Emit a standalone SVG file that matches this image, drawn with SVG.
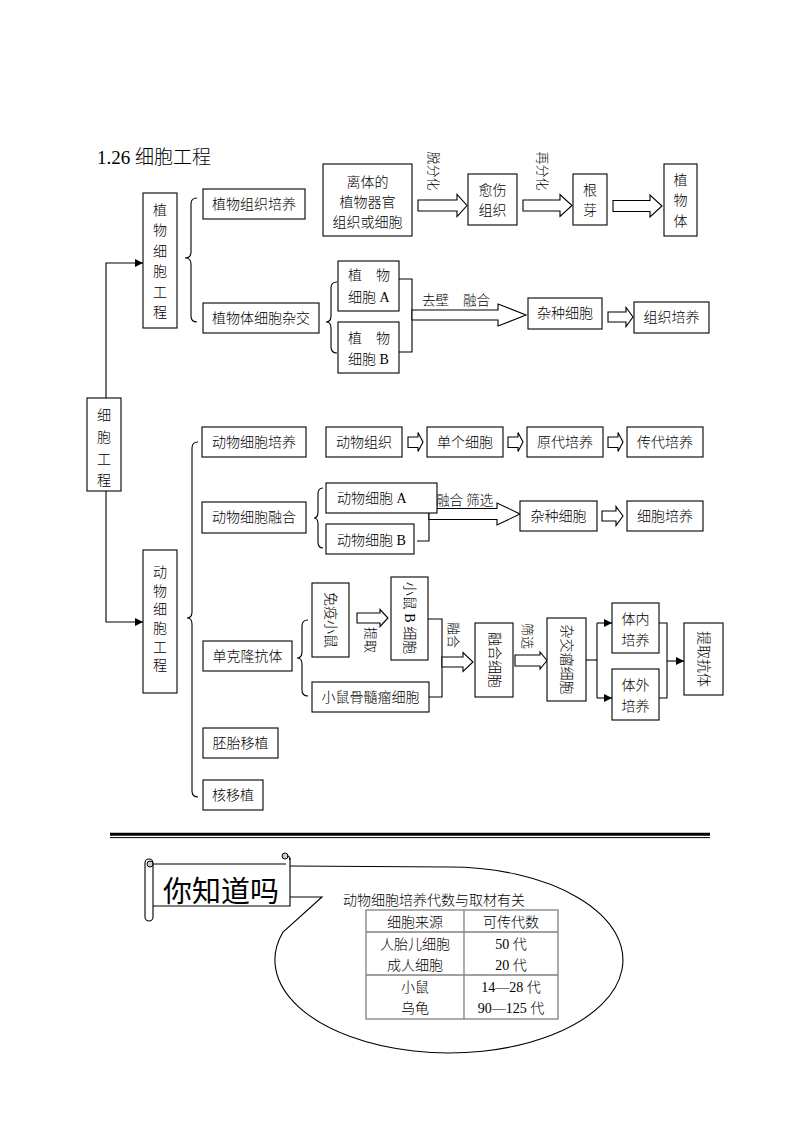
<svg xmlns="http://www.w3.org/2000/svg" width="794" height="1123" viewBox="0 0 794 1123">
<defs>
<style>
text{font-family:"Liberation Serif","Noto Sans CJK SC",serif;font-size:14px;fill:#000;font-weight:300;}
.c{text-anchor:middle;dominant-baseline:central;}
.v{text-anchor:middle;dominant-baseline:central;font-size:13px;}
.box{fill:#fff;stroke:#000;stroke-width:1.1;}
.ln{fill:none;stroke:#000;stroke-width:1.1;}
.ha{fill:#fff;stroke:#000;stroke-width:1.1;stroke-linejoin:miter;}
.tb{fill:none;stroke:#808080;stroke-width:1.3;}
</style>
<marker id="ah" viewBox="0 0 10 10" refX="10" refY="5" markerWidth="8" markerHeight="8" markerUnits="userSpaceOnUse" orient="auto">
<path d="M0,0 L10,5 L0,10 Z" fill="#000"/>
</marker>
</defs>
<rect width="794" height="1123" fill="#fff"/>

<text x="97" y="164" style="font-size:19px">1.26 细胞工程</text>

<!-- connectors -->
<g id="connectors">
<path class="ln" d="M106,398 V263 H143" marker-end="url(#ah)"/>
<path class="ln" d="M106,491 V622 H143" marker-end="url(#ah)"/>
<path class="ln" d="M197,198 Q191,198 191,204 L191,252 Q191,258 185,258 Q191,258 191,264 L191,316 Q191,322 197,322"/>
<path class="ln" d="M337,282 Q331,282 331,288 L331,316 Q331,322 326,322 Q331,322 331,328 L331,347 Q331,353 337,353"/>
<path class="ln" d="M198,442 Q192,442 192,448 L192,612 Q192,618 187,618 Q192,618 192,624 L192,791 Q192,797 198,797"/>
<path class="ln" d="M323,488 Q318,488 318,494 L318,512 Q318,518 314,518 Q318,518 318,524 L318,542 Q318,548 323,548"/>
<path class="ln" d="M308,620 Q302,620 302,626 L302,652 Q302,658 297,658 Q302,658 302,664 L302,690 Q302,696 308,696"/>
<path class="ln" d="M399,279 H412 V352 H399"/>
<path class="ln" d="M417,495 H429 V541 H417"/>
<path class="ln" d="M428,619 H442 V697 H429"/>
<path class="ln" d="M586,660 H597"/>
<path class="ln" d="M597,623 V698"/>
<path class="ln" d="M597,623 H612" marker-end="url(#ah)"/>
<path class="ln" d="M597,698 H612" marker-end="url(#ah)"/>
<path class="ln" d="M659,623 H667 V698 H659"/>
<path class="ln" d="M667,661 H684" marker-end="url(#ah)"/>
<!-- hollow arrows -->
<path class="ha" d="M418,200 H457 V194.5 L467,205.5 L457,216.5 V211 H418 Z"/>
<path class="ha" d="M523,200 H560 V194.5 L572,205.5 L560,216.5 V211 H523 Z"/>
<path class="ha" d="M613,200.5 H650 V195 L662,206 L650,217 V211.5 H613 Z"/>
<path class="ha" d="M412,310 H498 V304 L526,315 L498,326 V320 H412 Z"/>
<path class="ha" d="M608,312 H626 V307.5 L633,317 L626,326.5 V322 H608 Z"/>
<path class="ha" d="M408,437 H418 V432.5 L423,442 L418,451.5 V447.5 H408 Z"/>
<path class="ha" d="M508,437 H518 V432.5 L523,442 L518,451.5 V447.5 H508 Z"/>
<path class="ha" d="M608,437 H618 V432.5 L623,442 L618,451.5 V447.5 H608 Z"/>
<path class="ha" d="M429,508.5 H497 V503 L520,514 L497,525 V519.5 H429 Z"/>
<path class="ha" d="M602,511 H616 V506.5 L623,516 L616,525.5 V521 H602 Z"/>
<path class="ha" d="M357,613 H380 V609.5 L388,618 L380,626.5 V623 H357 Z"/>
<path class="ha" d="M442,657 H463 V652.5 L473,662 L463,671.5 V667 H442 Z"/>
<path class="ha" d="M515,655 H540 V652 L547,660.5 L540,669 V666 H515 Z"/>
</g>

<!-- edge labels -->
<g id="labels">
<text class="v" transform="translate(433,171) rotate(90)">脱分化</text>
<text class="v" transform="translate(542,171) rotate(90)">再分化</text>
<text x="422" y="305" style="font-size:13.5px">去壁</text>
<text x="463" y="305" style="font-size:13.5px">融合</text>
<text x="436" y="505" style="font-size:13.5px">融合 筛选</text>
<text class="v" transform="translate(370,640) rotate(90)">提取</text>
<text class="v" transform="translate(453,635) rotate(90)">融合</text>
<text class="v" transform="translate(527,636) rotate(90)">筛选</text>
</g>

<g id="n-main">
<rect class="box" x="87" y="398" width="34" height="93"/>
<text class="c" x="104" y="415">细</text><text class="c" x="104" y="437">胞</text>
<text class="c" x="104" y="459">工</text><text class="c" x="104" y="480">程</text>
</g>
<g id="n-plant">
<rect class="box" x="143" y="193" width="34" height="135"/>
<text class="c" x="160" y="210">植</text><text class="c" x="160" y="230.5">物</text>
<text class="c" x="160" y="251">细</text><text class="c" x="160" y="271.5">胞</text>
<text class="c" x="160" y="292">工</text><text class="c" x="160" y="312.5">程</text>
</g>
<g id="n-animal">
<rect class="box" x="143" y="550" width="34" height="143"/>
<text class="c" x="160" y="572">动</text><text class="c" x="160" y="591">物</text>
<text class="c" x="160" y="609.5">细</text><text class="c" x="160" y="628">胞</text>
<text class="c" x="160" y="647">工</text><text class="c" x="160" y="665">程</text>
</g>

<g id="n-ptc"><rect class="box" x="203" y="189" width="102" height="30"/><text class="c" x="254" y="204">植物组织培养</text></g>
<g id="n-psh"><rect class="box" x="203" y="303" width="116" height="30"/><text class="c" x="261" y="318">植物体细胞杂交</text></g>
<g id="n-explant"><rect class="box" x="323" y="164" width="89" height="72"/>
<text class="c" x="367.5" y="182">离体的</text><text class="c" x="367.5" y="202">植物器官</text><text class="c" x="367.5" y="222">组织或细胞</text></g>
<g id="n-callus"><rect class="box" x="468" y="174" width="49" height="51"/>
<text class="c" x="492.5" y="190">愈伤</text><text class="c" x="492.5" y="210">组织</text></g>
<g id="n-rootbud"><rect class="box" x="573" y="174" width="34" height="51"/>
<text class="c" x="590" y="190">根</text><text class="c" x="590" y="210">芽</text></g>
<g id="n-plantbody"><rect class="box" x="664" y="164" width="33" height="72"/>
<text class="c" x="680.5" y="180">植</text><text class="c" x="680.5" y="200">物</text><text class="c" x="680.5" y="221">体</text></g>
<g id="n-pcA"><rect class="box" x="338" y="261" width="61" height="50"/>
<text x="348" y="275" style="dominant-baseline:central">植　物</text><text x="348" y="297" style="dominant-baseline:central">细胞 A</text></g>
<g id="n-pcB"><rect class="box" x="338" y="322" width="61" height="51"/>
<text x="348" y="338" style="dominant-baseline:central">植　物</text><text x="348" y="359" style="dominant-baseline:central">细胞 B</text></g>
<g id="n-phybrid"><rect class="box" x="528" y="298" width="74" height="31"/><text class="c" x="565" y="313.5">杂种细胞</text></g>
<g id="n-ptissue"><rect class="box" x="634" y="302" width="75" height="31"/><text class="c" x="671.5" y="317.5">组织培养</text></g>

<g id="n-act"><rect class="box" x="202" y="427" width="104" height="30"/><text class="c" x="254" y="442">动物细胞培养</text></g>
<g id="n-atissue"><rect class="box" x="326" y="427" width="76" height="30"/><text class="c" x="364" y="442">动物组织</text></g>
<g id="n-single"><rect class="box" x="427" y="427" width="76" height="30"/><text class="c" x="465" y="442">单个细胞</text></g>
<g id="n-primary"><rect class="box" x="527" y="427" width="76" height="30"/><text class="c" x="565" y="442">原代培养</text></g>
<g id="n-sub"><rect class="box" x="627" y="427" width="76" height="30"/><text class="c" x="665" y="442">传代培养</text></g>
<g id="n-afusion"><rect class="box" x="202" y="502" width="104" height="31"/><text class="c" x="254" y="517.5">动物细胞融合</text></g>
<g id="n-acA"><rect class="box" x="326" y="483" width="111" height="30"/><text x="337" y="498" style="dominant-baseline:central">动物细胞 A</text></g>
<g id="n-acB"><rect class="box" x="326" y="524" width="88" height="30"/><text x="337" y="540" style="dominant-baseline:central">动物细胞 B</text></g>
<g id="n-ahybrid"><rect class="box" x="520" y="501" width="77" height="30"/><text class="c" x="558.5" y="516">杂种细胞</text></g>
<g id="n-aculture"><rect class="box" x="627" y="501" width="76" height="30"/><text class="c" x="665" y="516">细胞培养</text></g>

<g id="n-mab"><rect class="box" x="203" y="641" width="89" height="30"/><text class="c" x="247.5" y="656">单克隆抗体</text></g>
<g id="n-immune"><rect class="box" x="312" y="583" width="37" height="74"/><text class="c" transform="translate(330.5,620) rotate(90)">免疫小鼠</text></g>
<g id="n-bcell"><rect class="box" x="391" y="577" width="37" height="83"/><text class="c" transform="translate(409.5,618) rotate(90)">小鼠 B 细胞</text></g>
<g id="n-myeloma"><rect class="box" x="312" y="682" width="117" height="30"/><text class="c" x="370.5" y="697">小鼠骨髓瘤细胞</text></g>
<g id="n-fused"><rect class="box" x="475" y="623" width="38" height="74"/><text class="c" transform="translate(494,660) rotate(90)">融合细胞</text></g>
<g id="n-hybridoma"><rect class="box" x="547" y="618" width="39" height="83"/><text class="c" transform="translate(566.5,659.5) rotate(90)">杂交瘤细胞</text></g>
<g id="n-invivo"><rect class="box" x="612" y="603" width="47" height="50"/>
<text class="c" x="635.5" y="619">体内</text><text class="c" x="635.5" y="640">培养</text></g>
<g id="n-invitro"><rect class="box" x="612" y="669" width="47" height="51"/>
<text class="c" x="635.5" y="685">体外</text><text class="c" x="635.5" y="706">培养</text></g>
<g id="n-extract"><rect class="box" x="684" y="623" width="39" height="72"/><text class="c" transform="translate(703.5,659) rotate(90)">提取抗体</text></g>
<g id="n-embryo"><rect class="box" x="203" y="728" width="75" height="30"/><text class="c" x="240.5" y="743">胚胎移植</text></g>
<g id="n-nuclear"><rect class="box" x="203" y="780" width="60" height="30"/><text class="c" x="233" y="795">核移植</text></g>

<!-- separator -->
<line x1="110" y1="834.2" x2="710" y2="834.2" stroke="#000" stroke-width="3"/>
<line x1="110" y1="837.6" x2="710" y2="837.6" stroke="#000" stroke-width="1"/>

<!-- did you know -->
<g id="bubble">
<path class="ln" d="M290,866 L449,867 A174,93 0 1 1 283,932 L322,897 L290,897"/>
</g>
<g id="banner">
<path class="ln" d="M152,864 H286"/>
<path class="ln" d="M290,858 V906 H153"/>
<circle cx="285" cy="856" r="3" fill="#ccc" stroke="#000" stroke-width="1"/>
<path d="M287,856 Q290,856 290,860" class="ln"/>
<rect x="145" y="859" width="8" height="62" rx="4" fill="#fff" stroke="#000" stroke-width="1.1"/>
<circle cx="150" cy="864" r="3" fill="#ccc" stroke="#000" stroke-width="1"/>
<text x="163" y="902" style="font-family:'Noto Sans CJK SC',sans-serif;font-size:29px;font-weight:400">你知道吗</text>
</g>
<g id="table">
<text x="343" y="900" style="dominant-baseline:central">动物细胞培养代数与取材有关</text>
<rect class="tb" x="366" y="910" width="192" height="109"/>
<line class="tb" x1="464" y1="910" x2="464" y2="1019"/>
<line class="tb" x1="366" y1="932" x2="558" y2="932"/>
<line class="tb" x1="366" y1="975" x2="558" y2="975"/>
<text class="c" x="415" y="922">细胞来源</text><text class="c" x="511" y="922">可传代数</text>
<text class="c" x="415" y="944">人胎儿细胞</text><text class="c" x="511" y="944">50 代</text>
<text class="c" x="415" y="965">成人细胞</text><text class="c" x="511" y="965">20 代</text>
<text class="c" x="415" y="987">小鼠</text><text class="c" x="511" y="987">14—28 代</text>
<text class="c" x="415" y="1008">乌龟</text><text class="c" x="511" y="1008">90—125 代</text>
</g>
</svg>
